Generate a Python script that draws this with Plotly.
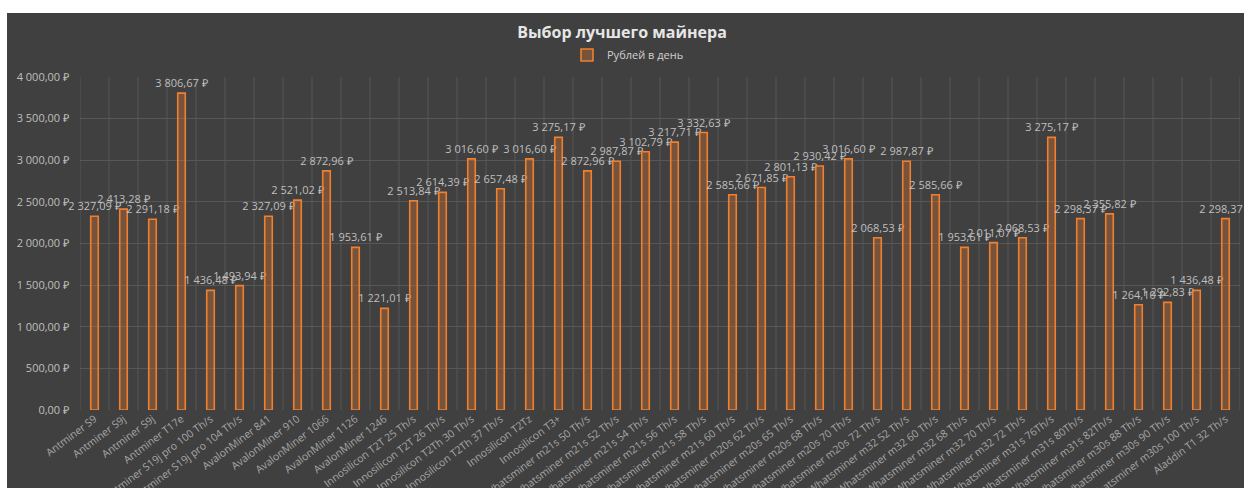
import plotly.graph_objects as go

categories = [
    "Antminer S9", "Antminer S9j", "Antminer S9j", "Antminer T17e",
    "Antminer S19j pro 100 Th/s", "Antminer S19j pro 104 Th/s",
    "AvalonMiner 841", "AvalonMiner 910", "AvalonMiner 1066", "AvalonMiner 1126", "AvalonMiner 1246",
    "Innosilicon T2T 25 Th/s", "Innosilicon T2T 26 Th/s", "Innosilicon T2Th 30 Th/s",
    "Innosilicon T2Th 37 Th/s", "Innosilicon T2Tz", "Innosilicon T3+",
    "Whatsminer m21s 50 Th/s", "Whatsminer m21s 52 Th/s", "Whatsminer m21s 54 Th/s",
    "Whatsminer m21s 56 Th/s", "Whatsminer m21s 58 Th/s", "Whatsminer m21s 60 Th/s",
    "Whatsminer m20s 62 Th/s", "Whatsminer m20s 65 Th/s", "Whatsminer m20s 68 Th/s",
    "Whatsminer m20s 70 Th/s", "Whatsminer m20s 72 Th/s",
    "Whatsminer m32 52 Th/s", "Whatsminer m32 60 Th/s", "Whatsminer m32 68 Th/s",
    "Whatsminer m32 70 Th/s", "Whatsminer m32 72 Th/s",
    "Whatsminer m31s 76Th/s", "Whatsminer m31s 80Th/s", "Whatsminer m31s 82Th/s",
    "Whatsminer m30s 88 Th/s", "Whatsminer m30s 90 Th/s", "Whatsminer m30s 100 Th/s",
    "Aladdin T1 32 Th/s",
]

rub_per_day = [
    2327.09, 2413.28, 2291.18, 3806.67,
    1436.48, 1493.94,
    2327.09, 2521.02, 2872.96, 1953.61, 1221.01,
    2513.84, 2614.39, 3016.60,
    2657.48, 3016.60, 3275.17,
    2872.96, 2987.87, 3102.79,
    3217.71, 3332.63, 2585.66,
    2671.85, 2801.13, 2930.42,
    3016.60, 2068.53,
    2987.87, 2585.66, 1953.61,
    2011.07, 2068.53,
    3275.17, 2298.37, 2355.82,
    1264.10, 1292.83, 1436.48,
    2298.37,
]

y_tick_values = [0, 500, 1000, 1500, 2000, 2500, 3000, 3500, 4000]

series_name = "Рублей в день"
title_text = "Выбор лучшего майнера"


def rub(v):
    s = f"{v:,.2f}"
    s = s.replace(",", " ").replace(".", ",")
    return s + " ₽"


labels = [rub(v) for v in rub_per_day]
y_tick_text = [rub(v) for v in y_tick_values]

x_idx = list(range(len(categories)))

fig = go.Figure()
fig.add_trace(go.Bar(
    x=x_idx,
    y=rub_per_day,
    name=series_name,
    width=0.26,
    marker=dict(color="rgba(237,125,49,0.32)",
                line=dict(color="#F0802E", width=1.6)),
    text=labels,
    textposition="outside",
    constraintext="none",
    cliponaxis=False,
    textfont=dict(family="Open Sans", size=11, color="#BFBFBF"),
    showlegend=True,
))

L, R, T, B = 80, 4, 77, 78
W, H = 1244, 488
pw = W - L - R
ph = H - T - B

def px_x(p):
    return (p - L) / pw

def px_y(p):
    return (H - B - p) / ph

fig.add_shape(type="rect", xref="paper", yref="paper",
              x0=px_x(7), x1=px_x(1250), y0=px_y(495), y1=px_y(13),
              fillcolor="#404040", line=dict(width=0), layer="below")

fig.update_layout(
    width=W, height=H,
    margin=dict(l=L, r=R, t=T, b=B),
    paper_bgcolor="white",
    plot_bgcolor="rgba(0,0,0,0)",
    font=dict(family="Open Sans", color="#BFBFBF"),
    title=dict(text="<b>" + title_text + "</b>", x=0.5, xref="container", xanchor="center",
               y=1 - 32 / H, yref="container", yanchor="middle",
               font=dict(family="Open Sans", size=16, color="#E6E6E6")),
    legend=dict(orientation="h", x=px_x(628), xanchor="center", y=px_y(55), yanchor="middle",
                font=dict(size=11, color="#D0D0D0"), bgcolor="rgba(0,0,0,0)",
                itemwidth=30),
    bargap=0.7,
    xaxis=dict(
        type="linear",
        range=[-0.5, len(categories) - 0.5],
        tickmode="array",
        tickvals=x_idx,
        ticktext=categories,
        tickangle=-37,
        tickfont=dict(size=10.5, color="#A6A6A6"),
        showgrid=False,
        zeroline=False,
        showline=False,
        ticks="",
        automargin=False,
    ),
    yaxis=dict(
        range=[0, 4000],
        tickmode="array",
        tickvals=y_tick_values,
        ticktext=y_tick_text,
        tickfont=dict(size=11, color="#BFBFBF"),
        ticklabelstandoff=10,
        showgrid=True, gridcolor="#575757", gridwidth=1,
        zeroline=False, showline=False,
        automargin=False,
    ),
)

# category boundary gridlines
for i in range(len(categories) + 1):
    fig.add_shape(type="line", xref="x", yref="paper",
                  x0=i - 0.5, x1=i - 0.5, y0=0, y1=1,
                  line=dict(color="#575757", width=1), layer="below")

fig.write_html("out.html")
